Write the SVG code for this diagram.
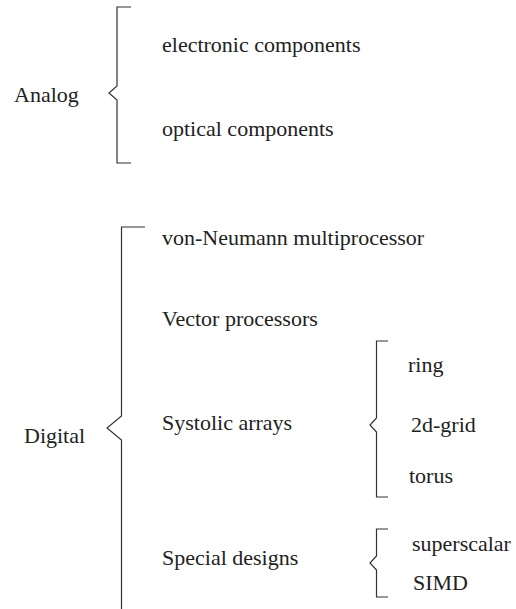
<svg xmlns="http://www.w3.org/2000/svg" width="516" height="609" viewBox="0 0 516 609">
<style>
text{font-family:"Liberation Serif","Times New Roman",serif;font-size:22px;fill:#222}
.b{fill:none;stroke:#333;stroke-width:1.2}
</style>
<rect width="516" height="609" fill="#fff"/>
<g id="connectors">
<path class="b" d="M131,7 H117 V86 L109,93 L117,100 V163 H131"/>
<path class="b" d="M145,227 H121.5 V416 L107,428 L121.5,440 V609"/>
<path class="b" d="M388,341 H376.5 V418 L370,425 L376.5,432 V497 H388"/>
<path class="b" d="M388,529 H376.5 V556 L370,563 L376.5,570 V597 H388"/>
</g>
<g id="analog"><text x="14" y="102">Analog</text></g>
<g id="electronic"><text x="162" y="52">electronic components</text></g>
<g id="optical"><text x="162" y="136">optical components</text></g>
<g id="digital"><text x="24" y="443">Digital</text></g>
<g id="vonneumann"><text x="162" y="245">von-Neumann multiprocessor</text></g>
<g id="vector"><text x="162" y="326">Vector processors</text></g>
<g id="systolic"><text x="162" y="430">Systolic arrays</text></g>
<g id="special"><text x="162" y="565">Special designs</text></g>
<g id="ring"><text x="408" y="372">ring</text></g>
<g id="grid"><text x="411" y="432">2d-grid</text></g>
<g id="torus"><text x="409" y="483">torus</text></g>
<g id="superscalar"><text x="412" y="551">superscalar</text></g>
<g id="simd"><text x="413" y="590">SIMD</text></g>
</svg>
